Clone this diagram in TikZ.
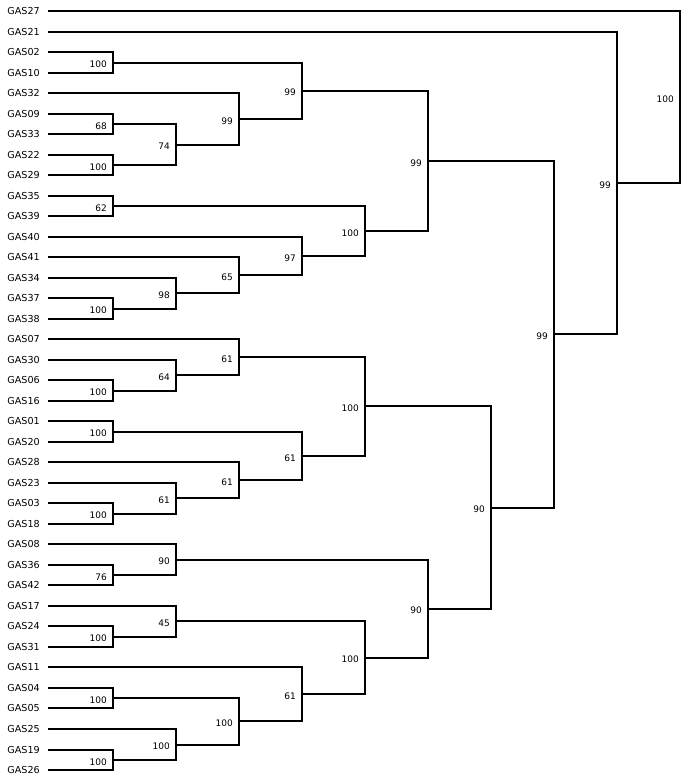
\documentclass[tikz,border=0pt]{standalone}
\usepackage{fontspec}
\setmainfont{DejaVu Sans}
\usetikzlibrary{calc}
\tikzset{
  br/.style={line width=2pt, black, line join=miter},
  leaf/.style={anchor=east, inner sep=0pt, font=\fontsize{9.6}{11}\selectfont},
  bs/.style={anchor=east, inner sep=0pt, font=\fontsize{9}{10}\selectfont}
}
\newcommand\clade[5]{%
  \path let \p1=(#3), \p2=(#4) in coordinate (#1) at (#2,{(\y1+\y2)/2});
  \draw[br] (#3) -- (#3 -| #1) -- (#4 -| #1) -- (#4);
  \node[bs] (l#1) at ($(#1)+(-6,-2)$) {#5};
}
\begin{document}
\begin{tikzpicture}[x=1pt,y=1pt]
\useasboundingbox (0,0) rectangle (685,-780);
\foreach \n [count=\i from 0] in {GAS27,GAS21,GAS02,GAS10,GAS32,GAS09,GAS33,GAS22,GAS29,GAS35,GAS39,GAS40,GAS41,GAS34,GAS37,GAS38,GAS07,GAS30,GAS06,GAS16,GAS01,GAS20,GAS28,GAS23,GAS03,GAS18,GAS08,GAS36,GAS42,GAS17,GAS24,GAS31,GAS11,GAS04,GAS05,GAS25,GAS19,GAS26} {
  \coordinate (\n) at (48,{-round(11+20.514*\i)});
  \node[leaf] (t\n) at (40,{-round(11+20.514*\i)}) {\n};
}
\clade{A}{113}{GAS02}{GAS10}{100}
\clade{B}{113}{GAS09}{GAS33}{68}
\clade{C}{113}{GAS22}{GAS29}{100}
\clade{D}{176}{B}{C}{74}
\clade{E}{239}{GAS32}{D}{99}
\clade{F}{302}{A}{E}{99}
\clade{G}{113}{GAS35}{GAS39}{62}
\clade{H}{113}{GAS37}{GAS38}{100}
\clade{I}{176}{GAS34}{H}{98}
\clade{J}{239}{GAS41}{I}{65}
\clade{K}{302}{GAS40}{J}{97}
\clade{L}{365}{G}{K}{100}
\clade{M}{428}{F}{L}{99}
\clade{N}{113}{GAS06}{GAS16}{100}
\clade{O}{176}{GAS30}{N}{64}
\clade{P}{239}{GAS07}{O}{61}
\clade{Q}{113}{GAS01}{GAS20}{100}
\clade{R}{113}{GAS03}{GAS18}{100}
\clade{S}{176}{GAS23}{R}{61}
\clade{T}{239}{GAS28}{S}{61}
\clade{U}{302}{Q}{T}{61}
\clade{V}{365}{P}{U}{100}
\clade{W}{113}{GAS36}{GAS42}{76}
\clade{X}{176}{GAS08}{W}{90}
\clade{Y}{113}{GAS24}{GAS31}{100}
\clade{Z}{176}{GAS17}{Y}{45}
\clade{AA}{113}{GAS04}{GAS05}{100}
\clade{AB}{113}{GAS19}{GAS26}{100}
\clade{AC}{176}{GAS25}{AB}{100}
\clade{AD}{239}{AA}{AC}{100}
\clade{AE}{302}{GAS11}{AD}{61}
\clade{AF}{365}{Z}{AE}{100}
\clade{AG}{428}{X}{AF}{90}
\clade{AH}{491}{V}{AG}{90}
\clade{AI}{554}{M}{AH}{99}
\clade{AJ}{617}{GAS21}{AI}{99}
\clade{AK}{680}{GAS27}{AJ}{100}
\end{tikzpicture}
\end{document}
